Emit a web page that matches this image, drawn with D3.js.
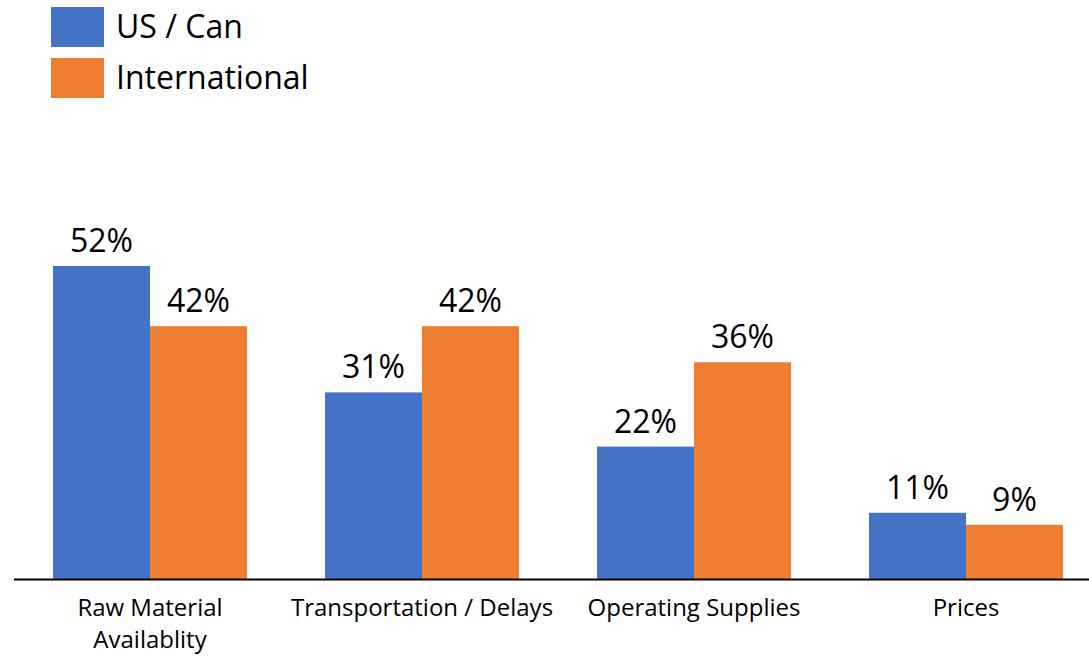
<!DOCTYPE html>
<meta charset="utf-8">
<script src="https://d3js.org/d3.v7.min.js"></script>
<style>
  body { margin: 0; background: #fff; }
  text { font-family: "Open Sans", "Noto Sans", sans-serif; fill: #000; }
</style>
<svg id="chart" width="1089" height="658"></svg>
<script>

// data
var categories = [["Raw Material", "Availablity"], ["Transportation / Delays"], ["Operating Supplies"], ["Prices"]];
var seriesNames = ["US / Can", "International"];
var usCan = [52, 31, 22, 11];
var international = [42, 42, 36, 9];
var colors = ["#4472C4", "#ED7D31"];

var svg = d3.select("#chart");

var x0 = d3.scaleBand()
    .domain(d3.range(categories.length))
    .range([14, 1102])
    .paddingInner(0.287)
    .paddingOuter(0.1435);

var x1 = d3.scaleBand()
    .domain([0, 1])
    .range([0, x0.bandwidth()]);

var y = d3.scaleLinear()
    .domain([0, 52])
    .range([579, 266]);

var rows = categories.map(function(c, i) {
  return [usCan[i], international[i]];
});

// bars
var groups = svg.append("g")
  .selectAll("g")
  .data(rows)
  .enter()
  .append("g")
    .attr("transform", function(d, i) { return "translate(" + x0(i) + ",0)"; });

groups.selectAll("rect")
  .data(function(d) { return d; })
  .enter()
  .append("rect")
    .attr("x", function(d, j) { return x1(j); })
    .attr("y", function(d) { return y(d); })
    .attr("width", x1.bandwidth())
    .attr("height", function(d) { return y(0) - y(d); })
    .attr("fill", function(d, j) { return colors[j]; });

// value labels
groups.selectAll("text")
  .data(function(d) { return d; })
  .enter()
  .append("text")
    .attr("x", function(d, j) { return x1(j) + x1.bandwidth() / 2; })
    .attr("y", function(d) { return y(d) - 14; })
    .attr("text-anchor", "middle")
    .style("font-size", "32px")
    .text(function(d) { return d + "%"; });

// axis line
svg.append("line")
    .attr("x1", 14).attr("x2", 1089)
    .attr("y1", 579.5).attr("y2", 579.5)
    .attr("stroke", "#000")
    .attr("stroke-width", 2);

// category labels
var cat = svg.append("g")
  .selectAll("text")
  .data(categories)
  .enter()
  .append("text")
    .attr("text-anchor", "middle")
    .style("font-size", "24px")
    .attr("x", function(d, i) { return x0(i) + x0.bandwidth() / 2; })
    .attr("y", 616);

cat.selectAll("tspan")
  .data(function(d) { return d; })
  .enter()
  .append("tspan")
    .attr("x", function() { return d3.select(this.parentNode).attr("x"); })
    .attr("dy", function(d, k) { return k === 0 ? 0 : 32; })
    .text(function(d) { return d; });

// legend
var legend = svg.append("g")
  .selectAll("g")
  .data(seriesNames)
  .enter()
  .append("g")
    .attr("transform", function(d, i) { return "translate(51," + (7 + i * 51) + ")"; });

legend.append("rect")
    .attr("width", 53)
    .attr("height", 40)
    .attr("fill", function(d, i) { return colors[i]; });

legend.append("text")
    .attr("x", 65)
    .attr("y", 31)
    .style("font-size", "32px")
    .text(function(d) { return d; });

</script>
